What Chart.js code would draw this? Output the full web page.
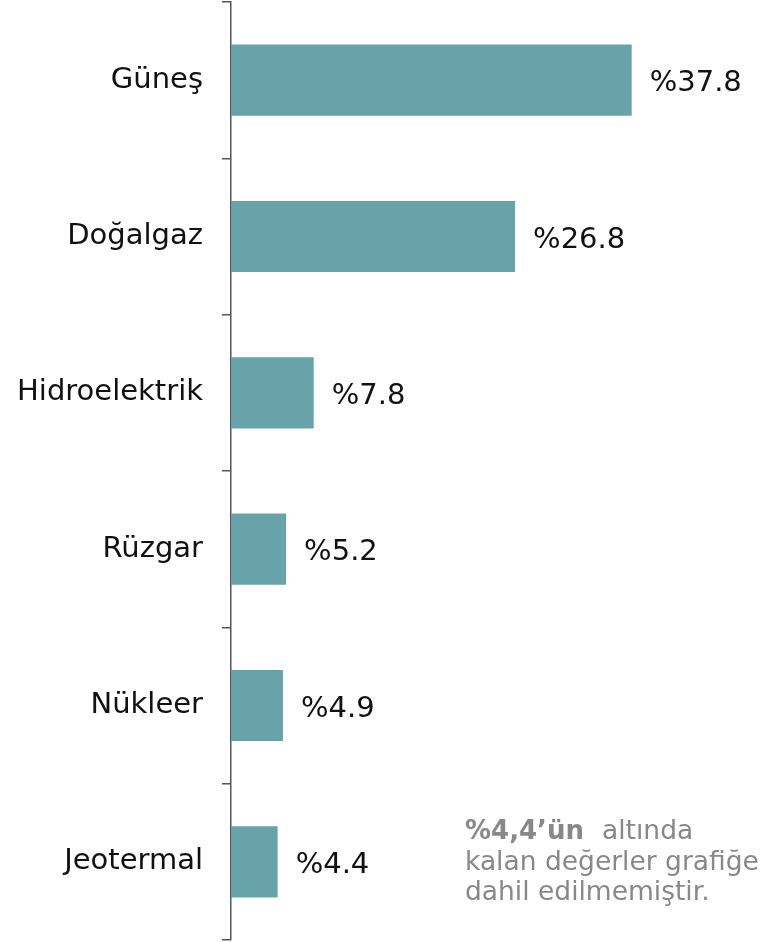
<!DOCTYPE html>
<html lang="tr">
<head>
<meta charset="utf-8">
<script src="https://cdn.jsdelivr.net/npm/chart.js@4.4.1/dist/chart.umd.min.js"></script>
<style>
  html, body { margin: 0; padding: 0; background: #ffffff; }
  #wrap { position: relative; width: 765px; height: 942px; }
</style>
</head>
<body>
<div id="wrap"><canvas id="chart" width="765" height="942"></canvas></div>
<script>
// Elektrik üretiminde kaynak payları (%)
const categories = ['Güneş', 'Doğalgaz', 'Hidroelektrik', 'Rüzgar', 'Nükleer', 'Jeotermal'];
const shares = [37.8, 26.8, 7.8, 5.2, 4.9, 4.4];
const valueLabels = ['%37.8', '%26.8', '%7.8', '%5.2', '%4.9', '%4.4'];
const noteBold = '%4,4’ün';
const noteLines = ['altında', 'kalan değerler grafiğe', 'dahil edilmemiştir.'];

const FONT = '"DejaVu Sans", Verdana, sans-serif';
const BAR_COLOR = '#67a3a9';

// Yüzde etiketleri çubukların sağına yazılır
const valueLabelPlugin = {
  id: 'valueLabels',
  afterDatasetsDraw(chart) {
    const ctx = chart.ctx;
    const meta = chart.getDatasetMeta(0);
    ctx.save();
    ctx.font = '29px ' + FONT;
    ctx.fillStyle = '#111111';
    ctx.textAlign = 'left';
    ctx.textBaseline = 'alphabetic';
    meta.data.forEach((bar, i) => {
      ctx.fillText(valueLabels[i], bar.x + 18, bar.y + 11);
    });
    ctx.restore();
  }
};

// Sağ alt köşedeki açıklama notu
const notePlugin = {
  id: 'note',
  afterDraw(chart) {
    const ctx = chart.ctx;
    const x = 465, y0 = 839, lh = 30.5;
    ctx.save();
    ctx.fillStyle = '#888888';
    ctx.textAlign = 'left';
    ctx.textBaseline = 'alphabetic';
    ctx.font = 'bold 26px ' + FONT;
    ctx.fillText(noteBold, x, y0);
    const w = ctx.measureText(noteBold).width;
    ctx.font = '26.5px ' + FONT;
    ctx.fillText(noteLines[0], x + w + 18, y0);
    ctx.fillText(noteLines[1], x, y0 + lh);
    ctx.fillText(noteLines[2], x, y0 + 2 * lh);
    ctx.restore();
  }
};

new Chart(document.getElementById('chart'), {
  type: 'bar',
  data: {
    labels: categories,
    datasets: [{
      data: shares,
      backgroundColor: BAR_COLOR,
      borderWidth: 0,
      categoryPercentage: 1,
      barPercentage: 0.455
    }]
  },
  options: {
    indexAxis: 'y',
    responsive: false,
    animation: false,
    layout: { padding: { top: 2, bottom: 2, left: 0, right: 4 } },
    plugins: {
      legend: { display: false },
      tooltip: { enabled: false }
    },
    scales: {
      x: {
        display: false,
        min: 0,
        max: 50
      },
      y: {
        offset: true,
        afterFit(scale) {
          scale.width = 231;
          scale.paddingTop = 0;
          scale.paddingBottom = 0;
        },
        border: { display: true, color: '#555555', width: 1.5 },
        grid: {
          offset: true,
          drawOnChartArea: false,
          drawTicks: true,
          tickLength: 9,
          color: '#555555',
          lineWidth: 1.5
        },
        ticks: {
          padding: 19,
          color: '#111111',
          font: { family: FONT, size: 29 }
        }
      }
    }
  },
  plugins: [valueLabelPlugin, notePlugin]
});
</script>
</body>
</html>
